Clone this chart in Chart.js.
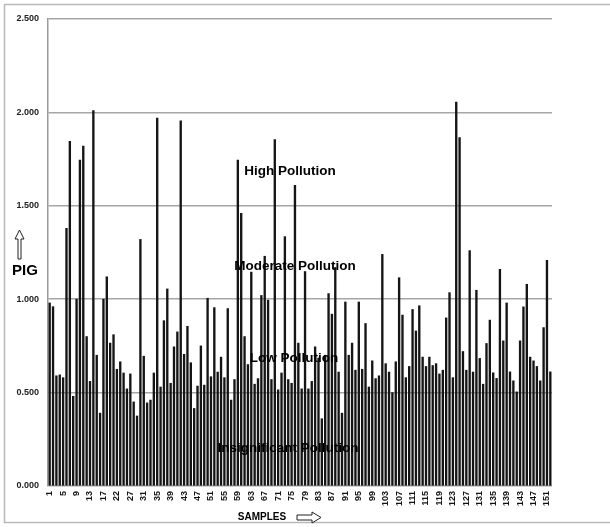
<!DOCTYPE html>
<html>
<head>
<meta charset="utf-8">
<script src="https://cdn.jsdelivr.net/npm/chart.js@4.4.1/dist/chart.umd.min.js"></script>
<style>
html,body{margin:0;padding:0;background:#fff;}
#wrap{position:relative;width:610px;height:527px;}
</style>
</head>
<body>
<div id="wrap"><canvas id="c" width="610" height="527"></canvas></div>
<script>
// Sample numbers (category labels)
const samples = [1,2,3,4,5,6,7,8,9,10,11,12,13,14,15,16,17,18,19,20,
22,23,24,25,27,28,29,30,31,32,33,34,35,36,37,38,39,40,41,42,43,44,45,46,47,48,49,50,
51,52,53,54,55,56,57,58,59,60,61,62,63,64,65,66,67,68,69,70,71,72,73,74,75,76,77,78,79,80,
81,82,83,84,85,86,87,88,89,90,91,92,93,94,95,96,97,98,99,100,101,102,103,104,105,106,107,108,109,110,
111,112,113,114,115,116,117,118,119,120,121,122,123,124,125,126,127,128,129,130,131,132,133,134,135,136,137,138,139,140,
141,142,143,144,145,146,147,148,149,150,151,152];

// PIG values per sample
const pig = [0.98,0.96,0.59,0.595,0.58,1.38,1.845,0.48,1.00,1.745,
1.82,0.80,0.56,2.01,0.70,0.39,1.00,1.12,0.765,0.81,
0.625,0.665,0.605,0.52,0.60,0.45,0.375,1.32,0.695,0.445,
0.46,0.605,1.97,0.53,0.885,1.055,0.55,0.745,0.825,1.955,
0.705,0.855,0.66,0.415,0.535,0.75,0.54,1.005,0.585,0.955,
0.61,0.69,0.58,0.95,0.46,0.57,1.745,1.46,0.80,0.65,
1.145,0.545,0.575,1.02,1.23,0.995,0.57,1.855,0.515,0.605,
1.335,0.57,0.55,1.61,0.765,0.52,1.148,0.52,0.56,0.745,
0.685,0.36,0.70,1.03,0.92,1.17,0.61,0.39,0.985,0.70,
0.765,0.62,0.985,0.625,0.87,0.53,0.67,0.575,0.59,1.24,
0.655,0.61,0.50,0.665,1.115,0.915,0.58,0.64,0.945,0.83,
0.965,0.69,0.64,0.69,0.645,0.655,0.60,0.62,0.90,1.035,
0.58,2.055,1.865,0.72,0.62,1.26,0.61,1.048,0.683,0.545,
0.763,0.888,0.606,0.576,1.16,0.777,0.98,0.611,0.563,0.504,
0.777,0.959,1.08,0.69,0.67,0.64,0.563,0.848,1.208,0.611];

const yTicks = [0, 0.5, 1.0, 1.5, 2.0, 2.5];
const zoneLabels = ['High Pollution','Moderate Pollution','Low Pollution','Insignificant Pollution'];
const yTitle = 'PIG';
const xTitle = 'SAMPLES';

const BOLD = "'Liberation Sans', Arial, sans-serif";

const decor = {
  id: 'decor',
  beforeDraw(chart){
    const ctx = chart.ctx;
    ctx.save();
    ctx.fillStyle = '#fff';
    ctx.fillRect(0,0,chart.width,chart.height);
    ctx.strokeStyle = '#b8b8b8';
    ctx.lineWidth = 1.5;
    ctx.strokeRect(4.5, 4.5, 620, 518);
    ctx.restore();
  },
  afterDatasetsDraw(chart){
    const ctx = chart.ctx;
    ctx.save();
    ctx.fillStyle = '#000';
    ctx.textAlign = 'center';
    ctx.textBaseline = 'middle';
    ctx.font = 'bold 13.5px ' + BOLD;
    const pos = [[290,171],[295,266],[294,358],[288,448]];
    zoneLabels.forEach((t,i)=>ctx.fillText(t, pos[i][0], pos[i][1]));

    // y title + up arrow
    ctx.font = 'bold 15px ' + BOLD;
    ctx.fillText(yTitle, 25, 271);
    ctx.beginPath();
    ctx.moveTo(19.5, 230);
    ctx.lineTo(24, 239);
    ctx.lineTo(21, 239);
    ctx.lineTo(21, 259);
    ctx.lineTo(18, 259);
    ctx.lineTo(18, 239);
    ctx.lineTo(15, 239);
    ctx.closePath();
    ctx.fillStyle = '#fff';
    ctx.fill();
    ctx.strokeStyle = '#222';
    ctx.lineWidth = 1;
    ctx.stroke();

    // x title + right arrow
    ctx.fillStyle = '#000';
    ctx.font = 'bold 10px ' + BOLD;
    ctx.fillText(xTitle, 262, 517);
    ctx.beginPath();
    ctx.moveTo(297, 515);
    ctx.lineTo(312, 515);
    ctx.lineTo(312, 512);
    ctx.lineTo(321, 517.5);
    ctx.lineTo(312, 523);
    ctx.lineTo(312, 520);
    ctx.lineTo(297, 520);
    ctx.closePath();
    ctx.fillStyle = '#fff';
    ctx.fill();
    ctx.strokeStyle = '#222';
    ctx.stroke();
    ctx.restore();
  }
};

new Chart(document.getElementById('c'), {
  type: 'bar',
  data: {
    labels: samples.map(String),
    datasets: [{
      data: pig,
      backgroundColor: '#151515',
      borderWidth: 0,
      barThickness: 1.7
    }]
  },
  options: {
    responsive: false,
    animation: false,
    devicePixelRatio: 1,
    layout: { padding: { left: 0, top: 19, right: 58, bottom: 0 } },
    plugins: { legend: { display: false }, tooltip: { enabled: false } },
    scales: {
      x: {
        grid: { display: false, drawTicks: false },
        border: { display: false },
        ticks: {
          autoSkip: false,
          maxRotation: 90,
          minRotation: 90,
          padding: 5,
          color: '#111',
          font: { family: BOLD, size: 9, weight: 'bold' },
          callback: function(v, i){ return i % 4 === 0 ? this.getLabelForValue(v) : ''; }
        },
        afterFit(s){ s.height = 41; }
      },
      y: {
        min: 0, max: 2.5,
        afterBuildTicks(s){ s.ticks = yTicks.map(v=>({value:v})); },
        grid: { color: '#a6a6a6', lineWidth: 1.5, drawTicks: false },
        border: { display: true, color: '#9a9a9a', width: 1.5 },
        ticks: {
          padding: 9,
          color: '#222',
          font: { family: BOLD, size: 9, weight: 'bold' },
          callback: v => Number(v).toFixed(3)
        },
        afterFit(s){ s.width = 48; }
      }
    }
  },
  plugins: [decor]
});
</script>
</body>
</html>
